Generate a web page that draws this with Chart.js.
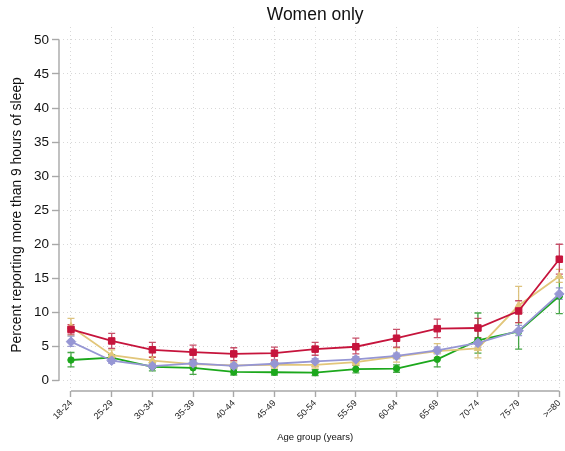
<!DOCTYPE html>
<html>
<head>
<meta charset="utf-8">
<script src="https://cdn.jsdelivr.net/npm/chart.js@4/dist/chart.umd.min.js"></script>
<style>
  html, body { margin: 0; padding: 0; background: #fff; overflow: hidden; }
  #wrap { width: 565px; height: 451px; overflow: hidden; }
</style>
</head>
<body>
<!-- the canvas is a few pixels wider than the frame so the reserved label margin falls outside it -->
<div id="wrap"><canvas id="c" width="570" height="451"></canvas></div>
<script>
// Age groups on the x axis
const ageGroups = ['18-24','25-29','30-34','35-39','40-44','45-49','50-54','55-59','60-64','65-69','70-74','75-79','>=80'];
// Y axis tick values
const yTicks = [0, 5, 10, 15, 20, 25, 30, 35, 40, 45, 50];

// Percent reporting more than 9 hours of sleep, with confidence limits
const redVals   = [7.5, 5.8, 4.5, 4.15, 3.9, 4.0, 4.6, 4.95, 6.2, 7.6, 7.7, 10.2, 17.8];
const redLow    = [6.8, 4.7, 3.4, 3.1, 2.9, 3.0, 3.7, 3.9, 4.9, 6.3, 6.3, 8.5, 15.6];
const redHigh   = [8.2, 6.9, 5.6, 5.2, 4.8, 4.9, 5.6, 6.2, 7.5, 9.0, 9.1, 11.7, 20.0];

const yellowVals = [7.9, 3.7, 2.9, 2.4, 2.2, 2.3, 2.3, 2.7, 3.5, 4.3, 4.7, 11.0, 15.3];
const yellowLow  = [6.6, 3.0, 2.3, 1.9, 1.7, 1.8, 1.8, 2.2, 2.7, 3.4, 3.3, 8.5, 14.4];
const yellowHigh = [9.1, 4.5, 3.5, 2.9, 2.7, 2.8, 2.8, 3.4, 4.8, 5.4, 6.0, 13.8, 16.3];

const purpleVals = [5.7, 2.9, 2.1, 2.5, 2.15, 2.45, 2.8, 3.1, 3.6, 4.4, 5.5, 7.3, 12.7];
const purpleLow  = [5.0, 2.5, 1.8, 2.1, 1.85, 2.1, 2.4, 2.7, 3.2, 3.9, 4.9, 6.6, 11.9];
const purpleHigh = [6.5, 3.3, 2.4, 2.9, 2.45, 2.8, 3.2, 3.5, 4.0, 4.9, 6.1, 8.1, 13.6];

const greenVals = [3.0, 3.35, 2.0, 1.85, 1.25, 1.2, 1.15, 1.65, 1.75, 3.1, 5.9, 7.2, 12.4];
const greenLow  = [2.0, 2.9, 1.4, 0.9, 0.8, 0.8, 0.7, 1.1, 1.2, 2.0, 4.0, 4.6, 9.8];
const greenHigh = [4.1, 3.8, 2.6, 2.7, 1.7, 1.6, 1.6, 2.2, 2.3, 4.2, 9.9, 9.9, 15.2];

const FONT = "'Liberation Sans', Arial, Helvetica, sans-serif";
const Y_TITLE = 'Percent reporting more than 9 hours of sleep';
const X_TITLE = 'Age group (years)';

function pts(vals) { return vals.map((v, i) => ({ x: i, y: v })); }

function series(vals, low, high, color, barColor, style, radius) {
  return {
    data: pts(vals),
    low, high, barColor,
    borderColor: color,
    backgroundColor: color,
    pointBackgroundColor: color,
    pointBorderColor: color,
    borderWidth: 1.8,
    pointStyle: style,
    pointRadius: radius,
    pointHoverRadius: radius,
    pointBorderWidth: 1,
    tension: 0,
    fill: false,
    clip: false
  };
}

// Confidence-interval whiskers, drawn under the lines and markers
const errorBars = {
  id: 'errorBars',
  beforeDatasetsDraw(chart) {
    const { ctx, scales: { x, y } } = chart;
    ctx.save();
    for (let d = chart.data.datasets.length - 1; d >= 0; d--) {
      const ds = chart.data.datasets[d];
      ctx.strokeStyle = ds.barColor;
      ctx.lineWidth = 1.3;
      ds.data.forEach((p, i) => {
        const px = x.getPixelForValue(p.x);
        const yl = y.getPixelForValue(ds.low[i]);
        const yh = y.getPixelForValue(ds.high[i]);
        const cap = 3.5;
        ctx.beginPath();
        ctx.moveTo(px, yl); ctx.lineTo(px, yh);
        ctx.moveTo(px - cap, yl); ctx.lineTo(px + cap, yl);
        ctx.moveTo(px - cap, yh); ctx.lineTo(px + cap, yh);
        ctx.stroke();
      });
    }
    ctx.restore();
  }
};

// Detached axis lines spanning only the tick range, plus the heading and axis titles
const frame = {
  id: 'frame',
  beforeDatasetsDraw(chart) {
    const { ctx, chartArea, scales: { x, y } } = chart;
    ctx.save();
    ctx.strokeStyle = '#a8a8a8';
    ctx.lineWidth = 1.4;
    ctx.beginPath();
    ctx.moveTo(chartArea.left, y.getPixelForValue(yTicks[0]));
    ctx.lineTo(chartArea.left, y.getPixelForValue(yTicks[yTicks.length - 1]));
    ctx.moveTo(x.getPixelForValue(0), chartArea.bottom);
    ctx.lineTo(x.getPixelForValue(ageGroups.length - 1), chartArea.bottom);
    ctx.stroke();
    ctx.restore();
  },
  afterDraw(chart) {
    const { ctx, scales: { x } } = chart;
    const cx = (x.getPixelForValue(0) + x.getPixelForValue(ageGroups.length - 1)) / 2;
    ctx.save();
    ctx.fillStyle = '#111';
    ctx.textAlign = 'center';
    ctx.textBaseline = 'middle';
    ctx.font = '17.5px ' + FONT;
    ctx.fillText('Women only', cx, 15);
    ctx.font = '9.5px ' + FONT;
    ctx.fillText(X_TITLE, cx, 437);
    ctx.font = '13.9px ' + FONT;
    ctx.translate(17, 215);
    ctx.rotate(-Math.PI / 2);
    ctx.fillText(Y_TITLE, 0, 0);
    ctx.restore();
  }
};

new Chart(document.getElementById('c'), {
  type: 'line',
  data: {
    datasets: [
      series(redVals, redLow, redHigh, 'rgb(198,20,60)', 'rgba(190,50,80,0.85)', 'rect', 4.6),
      series(purpleVals, purpleLow, purpleHigh, 'rgb(150,150,212)', 'rgba(140,140,205,0.85)', 'rectRot', 4.8),
      series(yellowVals, yellowLow, yellowHigh, 'rgb(226,198,122)', 'rgba(215,185,105,0.85)', 'triangle', 4.2),
      series(greenVals, greenLow, greenHigh, 'rgb(28,168,28)', 'rgba(40,150,40,0.85)', 'circle', 3.2)
    ]
  },
  options: {
    responsive: false,
    animation: false,
    devicePixelRatio: 1,
    layout: { padding: { top: 27, right: 0, left: 0, bottom: 0 } },
    plugins: { legend: { display: false }, tooltip: { enabled: false }, title: { display: false } },
    scales: {
      x: {
        type: 'linear',
        min: -0.2945,
        max: 12.12,
        afterBuildTicks(scale) { scale.ticks = ageGroups.map((_, i) => ({ value: i })); },
        afterFit(scale) { scale.height = 60; },
        border: { display: false, dash: [1, 3] },
        grid: { color: '#d8d8d8', lineWidth: 1, drawTicks: true, tickLength: 6, tickColor: '#a8a8a8', tickBorderDash: [], tickWidth: 1.4 },
        ticks: {
          autoSkip: false,
          minRotation: 45,
          maxRotation: 45,
          padding: 1,
          color: '#222',
          font: { family: FONT, size: 9 },
          callback: (v) => ageGroups[v]
        },
        title: { display: false }
      },
      y: {
        type: 'linear',
        min: -1.55,
        max: 51.9,
        afterBuildTicks(scale) { scale.ticks = yTicks.map(v => ({ value: v })); },
        afterFit(scale) { scale.width = 59; },
        border: { display: false, dash: [1, 3] },
        grid: { color: '#d8d8d8', lineWidth: 1, drawTicks: true, tickLength: 7, tickColor: '#a8a8a8', tickBorderDash: [], tickWidth: 1.4 },
        ticks: {
          padding: 3,
          color: '#111',
          font: { family: FONT, size: 13.5 },
          callback: (v) => String(v)
        },
        title: { display: false }
      }
    }
  },
  plugins: [errorBars, frame]
});
</script>
</body>
</html>
